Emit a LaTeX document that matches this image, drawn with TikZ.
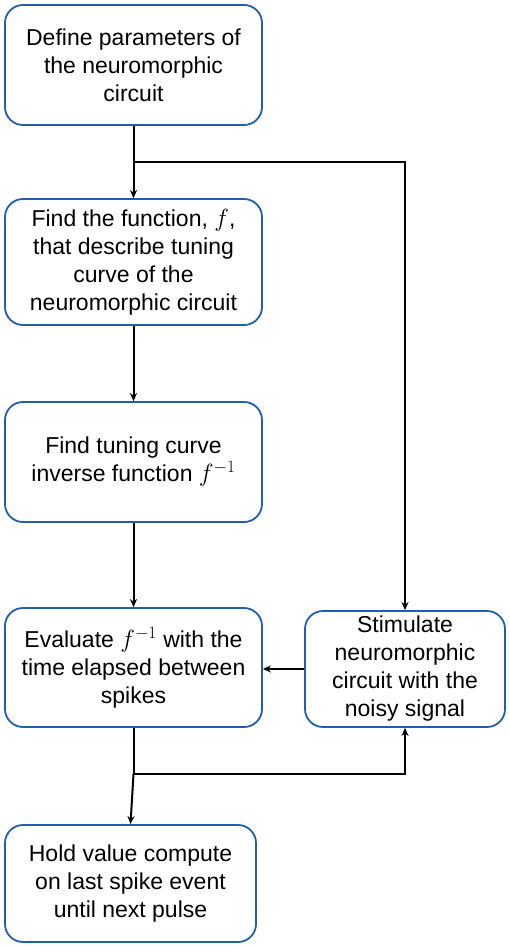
\documentclass[tikz,border=0pt]{standalone}
\usepackage{fontspec}
\setmainfont{Liberation Sans}
\usetikzlibrary{arrows.meta}
\definecolor{boxblue}{HTML}{1F5FAD}
\begin{document}
\begin{tikzpicture}[x=1pt,y=-1pt,
  flowbox/.style={draw=boxblue, line width=1.8pt, rounded corners=18pt, align=center,
    font=\fontsize{23}{28}\selectfont, inner sep=2pt},
  conn/.style={line width=2pt, draw=black},
  arr/.style={conn, -{Stealth[length=8pt,width=7pt,inset=2.5pt]}}]
\useasboundingbox (0,0) rectangle (510,947);
\node[flowbox, minimum width=257pt, minimum height=120pt] (b1) at (133.5,65)
  {Define parameters of\\the neuromorphic\\circuit};
\node[flowbox, minimum width=257pt, minimum height=126pt] (b2) at (133.5,262)
  {Find the function, $f$,\\that describe tuning\\curve of the\\neuromorphic circuit};
\node[flowbox, minimum width=257pt, minimum height=120pt] (b3) at (133.5,462)
  {Find tuning curve\\inverse function $f^{-1}$};
\node[flowbox, minimum width=257pt, minimum height=119pt] (b4) at (133.5,667.5)
  {Evaluate $f^{-1}$ with the\\time elapsed between\\spikes};
\node[flowbox, minimum width=200pt, minimum height=116pt] (b5) at (405,669)
  {Stimulate\\neuromorphic\\circuit with the\\noisy signal};
\node[flowbox, minimum width=251pt, minimum height=117pt] (b6) at (130.5,883.5)
  {Hold value compute\\on last spike event\\until next pulse};
\coordinate (j1) at (133.5,162);
\coordinate (j2) at (133.5,774);
\draw[arr] (b1.south) -- (b2.north);
\draw[arr] (j1) -| (b5.north);
\draw[arr] (b2.south) -- (b3.north);
\draw[arr] (b3.south) -- (b4.north);
\draw[arr] (b5.west) -- (b5.west -| b4.east);
\draw[conn] (b4.south) -- (j2);
\draw[arr] (j2) -- (b6.north);
\draw[arr] (j2) -| (b5.south);
\end{tikzpicture}
\end{document}
